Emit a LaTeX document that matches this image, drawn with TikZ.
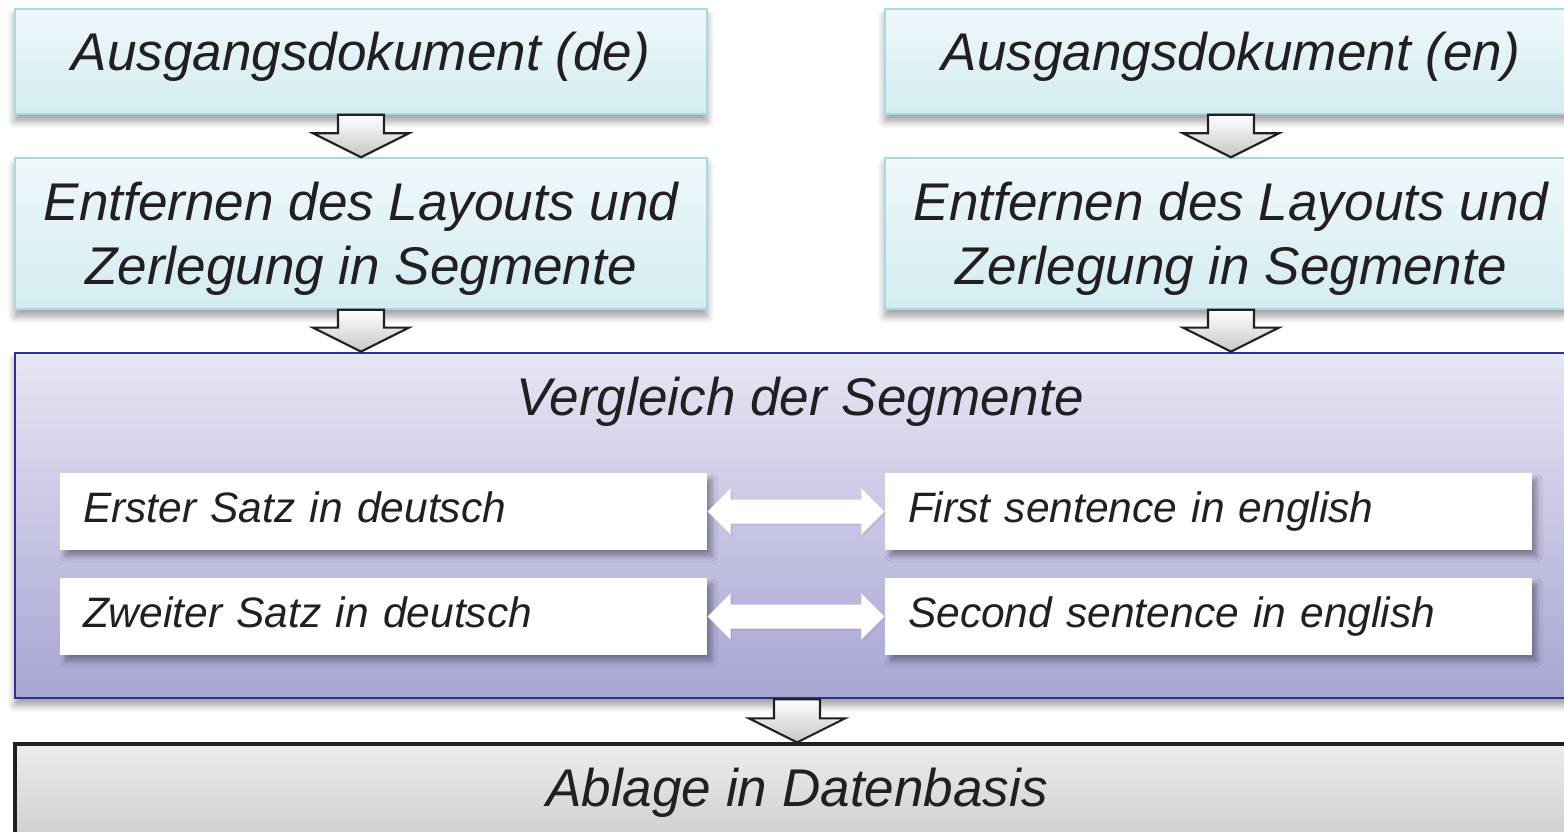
\documentclass[tikz,border=0pt]{standalone}
\usepackage{fontspec}
\setmainfont{Liberation Sans}
\usepackage{tikz}
\usetikzlibrary{calc,shadows,shadows.blur}

\definecolor{steptop}{HTML}{EFF8FA}
\definecolor{stepbottom}{HTML}{D3ECF2}
\definecolor{stepline}{HTML}{A9D8E0}
\definecolor{cmptop}{HTML}{E7E6F4}
\definecolor{cmpbottom}{HTML}{A7A5D3}
\definecolor{cmpline}{HTML}{2E3192}
\definecolor{dbtop}{HTML}{ECEDED}
\definecolor{dbbottom}{HTML}{C5C6C8}
\definecolor{inkdark}{HTML}{231F20}

\newcommand{\bigfont}{\fontsize{15.1}{18.2}\selectfont\itshape}
\newcommand{\pairfont}{\fontsize{12.1}{14.5}\selectfont\itshape}

% Block arrow pointing down from one box to the next
\newcommand{\blockdown}[2]{%
  \draw[downarrow] let \p1=(#1.south), \p2=(#2.north) in
    (\x1-0.23cm,\y1) -- (\x1+0.23cm,\y1) -- (\x1+0.23cm,\y2+0.24cm)
    -- (\x1+0.48cm,\y2+0.24cm) -- (\x1,\y2) -- (\x1-0.48cm,\y2+0.24cm)
    -- (\x1-0.23cm,\y2+0.24cm) -- cycle;}

% Two-headed block arrow between a pair of sentences
\newcommand{\blockboth}[2]{%
  \fill[pairarrow] let \p1=(#1.east), \p2=(#2.west) in
    (\x1,\y1) -- (\x1+0.23cm,\y1+0.23cm) -- (\x1+0.23cm,\y1+0.12cm)
    -- (\x2-0.23cm,\y1+0.12cm) -- (\x2-0.23cm,\y1+0.23cm) -- (\x2,\y1)
    -- (\x2-0.23cm,\y1-0.23cm) -- (\x2-0.23cm,\y1-0.12cm)
    -- (\x1+0.23cm,\y1-0.12cm) -- (\x1+0.23cm,\y1-0.23cm) -- cycle;}

\begin{document}
\begin{tikzpicture}[
    stepbox/.style={draw=stepline, line width=0.45pt, top color=steptop,
      bottom color=stepbottom, minimum width=6.92cm, align=center,
      text=inkdark, font=\bigfont,
      blur shadow={shadow xshift=0pt, shadow yshift=-0.07cm, shadow blur steps=6}},
    pairbox/.style={fill=white, minimum height=0.77cm, text width=6.01cm,
      inner xsep=0.23cm, align=left, text=inkdark, font=\pairfont,
      text height=0.31cm, text depth=0.09cm,
      blur shadow={shadow xshift=0.05cm, shadow yshift=-0.06cm,
        shadow blur radius=0.05cm, shadow blur steps=5, shadow opacity=35}},
    downarrow/.style={draw=inkdark, line width=0.6pt, top color=white,
      bottom color=black!22, line join=miter},
    pairarrow/.style={white, drop shadow={shadow xshift=0.02cm,
      shadow yshift=-0.02cm, opacity=0.15}}
  ]

    % Set picture size
    \useasboundingbox (0,0) rectangle (15.64,-8.31);
    \clip (0,0) rectangle (15.64,-8.31);

    % Draw source documents
    \node[stepbox, minimum height=1.05cm, text height=0.39cm, text depth=0.21cm] (de1) at (3.61,-0.615) {Ausgangsdokument (de)};
    \node[stepbox, minimum height=1.05cm, text height=0.39cm, text depth=0.21cm] (en1) at (12.31,-0.615) {Ausgangsdokument (en)};

    % Draw layout removal and segmentation
    \node[stepbox, minimum height=1.51cm, text height=1.12cm, text depth=0.10cm] (de2) at (3.61,-2.335) {Entfernen des Layouts und\\Zerlegung in Segmente};
    \node[stepbox, minimum height=1.51cm, text height=1.12cm, text depth=0.10cm] (en2) at (12.31,-2.335) {Entfernen des Layouts und\\Zerlegung in Segmente};

    % Draw comparison box and title
    \node[draw=cmpline, line width=0.8pt, top color=cmptop, bottom color=cmpbottom,
      minimum width=15.64cm, minimum height=3.45cm,
      blur shadow={shadow xshift=0pt, shadow yshift=-0.07cm, shadow blur steps=6}] (cmp) at (7.97,-5.255) {};
    \node[font=\bigfont, text=inkdark] (cmptitle) at (8.0,-4.02) {Vergleich der Segmente};

    % Draw sentence pairs
    \node[pairbox] (s1de) at (3.835,-5.115) {Erster Satz in deutsch};
    \node[pairbox] (s2de) at (3.835,-6.165) {Zweiter Satz in deutsch};
    \node[pairbox] (s1en) at (12.085,-5.115) {First sentence in english};
    \node[pairbox] (s2en) at (12.085,-6.165) {Second sentence in english};

    % Draw database box
    \node[draw=inkdark, line width=0.9pt, top color=dbtop, bottom color=dbbottom,
      minimum width=15.64cm, minimum height=1.2cm, text height=0.38cm, text depth=0.34cm,
      font=\bigfont, text=inkdark] (db) at (7.97,-8.04) {Ablage in Datenbasis};

    % Draw arrows
    \blockdown{de1}{de2}
    \blockdown{en1}{en2}
    \blockdown{de2}{cmp}
    \blockdown{en2}{cmp}
    \blockdown{cmp}{db}
    \blockboth{s1de}{s1en}
    \blockboth{s2de}{s2en}
\end{tikzpicture}
\end{document}
